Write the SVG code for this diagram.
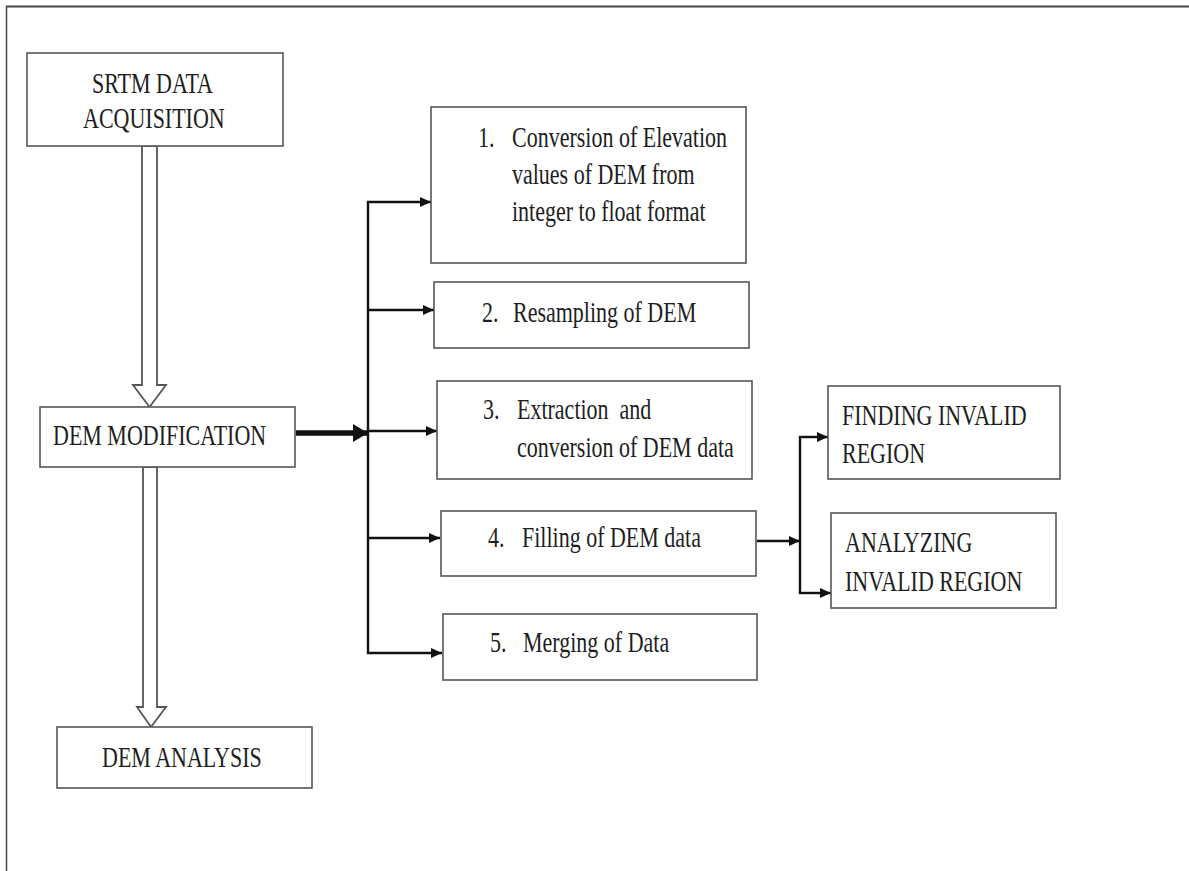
<svg xmlns="http://www.w3.org/2000/svg" width="1189" height="871" viewBox="0 0 1189 871">
<style>
.box{fill:#fff;stroke:#555;stroke-width:1.6}
.t{font-family:"Liberation Serif","Times New Roman",serif;font-size:22px;fill:#1e1e1e}
.c{fill:none;stroke:#111;stroke-width:2.4}
.hollow{fill:#fff;stroke:#555;stroke-width:1.8;stroke-linejoin:miter}
</style>
<defs>
<marker id="ah" markerUnits="userSpaceOnUse" markerWidth="12" markerHeight="12" refX="11" refY="6" orient="auto">
<path d="M0,1 L11,6 L0,11 Z" fill="#111"/>
</marker>
<marker id="ahb" markerUnits="userSpaceOnUse" markerWidth="16" markerHeight="20" refX="15" refY="10" orient="auto">
<path d="M0,1 L15,10 L0,19 Z" fill="#111"/>
</marker>
</defs>
<rect width="1189" height="871" fill="#fff"/>
<g id="frame">
<line x1="6" y1="6.5" x2="1189" y2="6.5" stroke="#444" stroke-width="2"/>
<line x1="6.5" y1="6" x2="6.5" y2="871" stroke="#444" stroke-width="1.5"/>
</g>
<g id="connectors">
<path class="hollow" d="M142,146 L157,146 L157,385 L166,385 L149.5,407 L133,385 L142,385 Z"/>
<path class="hollow" d="M143,467 L157,467 L157,707 L166,707 L151,727 L137,707 L143,707 Z"/>
<line x1="296" y1="433" x2="368" y2="433" stroke="#111" stroke-width="5.5" marker-end="url(#ahb)"/>
<line class="c" x1="368" y1="201" x2="368" y2="654"/>
<line class="c" x1="367" y1="202" x2="431" y2="202" marker-end="url(#ah)"/>
<line class="c" x1="367" y1="310" x2="434" y2="310" marker-end="url(#ah)"/>
<line class="c" x1="367" y1="431" x2="437" y2="431" marker-end="url(#ah)"/>
<line class="c" x1="367" y1="538" x2="440" y2="538" marker-end="url(#ah)"/>
<line class="c" x1="367" y1="653" x2="442" y2="653" marker-end="url(#ah)"/>
<line class="c" x1="757" y1="541" x2="800" y2="541" marker-end="url(#ah)"/>
<line class="c" x1="800" y1="436" x2="800" y2="594"/>
<line class="c" x1="799" y1="437" x2="828" y2="437" marker-end="url(#ah)"/>
<line class="c" x1="799" y1="593" x2="831" y2="593" marker-end="url(#ah)"/>
</g>
<g id="srtm">
<rect class="box" x="27" y="53" width="256" height="93"/>
<text class="t" transform="translate(92,93) scale(1,1.38)">SRTM DATA</text>
<text class="t" transform="translate(83,128) scale(1,1.38)">ACQUISITION</text>
</g>
<g id="demmod">
<rect class="box" x="40" y="407" width="255" height="60"/>
<text class="t" transform="translate(53,445) scale(1,1.38)">DEM MODIFICATION</text>
</g>
<g id="demanalysis">
<rect class="box" x="57" y="727" width="255" height="61"/>
<text class="t" transform="translate(102,767) scale(1,1.38)">DEM ANALYSIS</text>
</g>
<g id="step1">
<rect class="box" x="431" y="107" width="315" height="156"/>
<text class="t" transform="translate(478,147) scale(1,1.38)">1.</text>
<text class="t" transform="translate(512,147) scale(1,1.38)">Conversion of Elevation</text>
<text class="t" transform="translate(512,184) scale(1,1.38)">values of DEM from</text>
<text class="t" transform="translate(512,221) scale(1,1.38)">integer to float format</text>
</g>
<g id="step2">
<rect class="box" x="434" y="282" width="315" height="66"/>
<text class="t" transform="translate(482,322) scale(1,1.38)">2.</text>
<text class="t" transform="translate(513,322) scale(1,1.38)">Resampling of DEM</text>
</g>
<g id="step3">
<rect class="box" x="437" y="381" width="315" height="98"/>
<text class="t" transform="translate(483,419) scale(1,1.38)">3.</text>
<text class="t" xml:space="preserve" style="white-space:pre" transform="translate(517,419) scale(1,1.38)">Extraction  and</text>
<text class="t" transform="translate(517,457) scale(1,1.38)">conversion of DEM data</text>
</g>
<g id="step4">
<rect class="box" x="441" y="511" width="315" height="65"/>
<text class="t" transform="translate(488,547) scale(1,1.38)">4.</text>
<text class="t" transform="translate(522,547) scale(1,1.38)">Filling of DEM data</text>
</g>
<g id="step5">
<rect class="box" x="443" y="614" width="314" height="66"/>
<text class="t" transform="translate(490,652) scale(1,1.38)">5.</text>
<text class="t" transform="translate(523,652) scale(1,1.38)">Merging of Data</text>
</g>
<g id="finding">
<rect class="box" x="828" y="386" width="232" height="93"/>
<text class="t" transform="translate(842,425) scale(1,1.38)">FINDING INVALID</text>
<text class="t" transform="translate(842,463) scale(1,1.38)">REGION</text>
</g>
<g id="analyzing">
<rect class="box" x="831" y="513" width="225" height="95"/>
<text class="t" transform="translate(845,552) scale(1,1.38)">ANALYZING</text>
<text class="t" transform="translate(845,591) scale(1,1.38)">INVALID REGION</text>
</g>
</svg>
